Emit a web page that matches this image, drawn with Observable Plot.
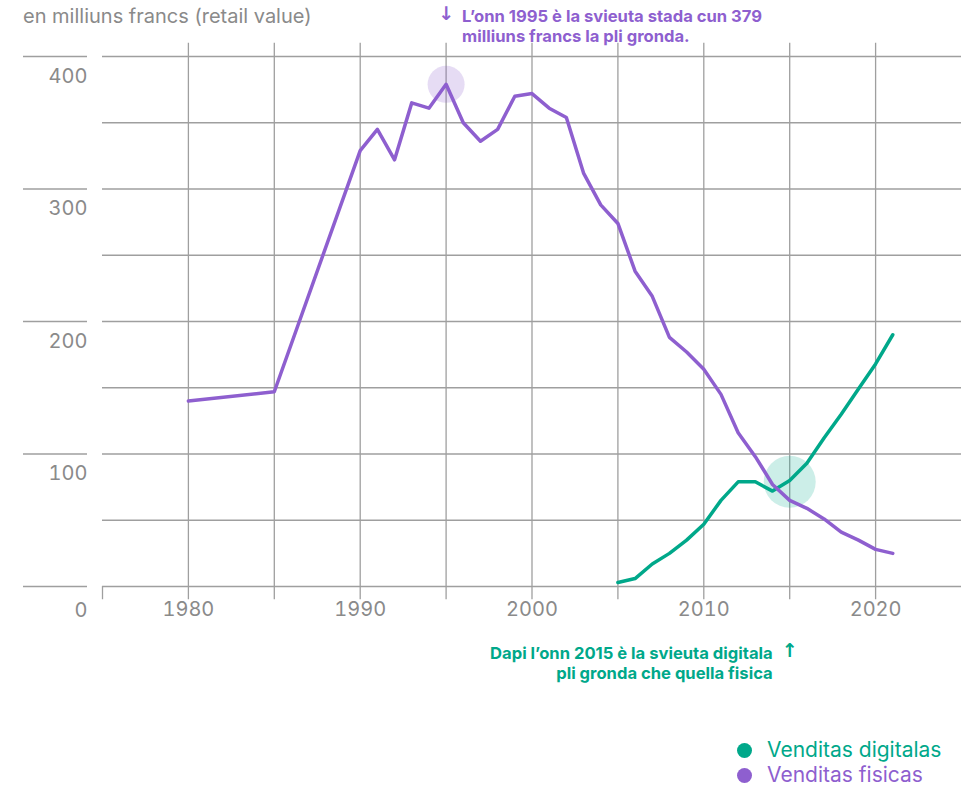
<!DOCTYPE html>
<html>
<head>
<meta charset="utf-8">
<script src="https://cdn.jsdelivr.net/npm/d3@7"></script>
<script src="https://cdn.jsdelivr.net/npm/@observablehq/plot@0.6"></script>
<style>
  body { margin: 0; background: #fff; font-family: Inter, "Liberation Sans", Arial, sans-serif; }
  #wrap { position: relative; width: 966px; height: 786px; overflow: hidden; }
  #title { position: absolute; left: 23px; top: 4px; font-size: 20px; color: #8a8a8a; white-space: nowrap; }
  #legend { position: absolute; left: 737px; top: 738px; width: 229px; font-size: 21px; line-height: 24px; white-space: nowrap; }
  .li { display: flex; align-items: center; height: 24px; }
  .li + .li { margin-top: 1px; }
  .dot { width: 15px; height: 15px; border-radius: 50%; margin-right: 15px; flex: none; }
</style>
</head>
<body>
<div id="wrap">
  <div id="chart"></div>
  <div id="title">en milliuns francs (retail value)</div>
  <div id="legend"></div>
</div>
<script>
const physYears = [1980, 1985, 1990, 1991, 1992, 1993, 1994, 1995, 1996, 1997, 1998, 1999, 2000, 2001, 2002, 2003, 2004, 2005, 2006, 2007, 2008, 2009, 2010, 2011, 2012, 2013, 2014, 2015, 2016, 2017, 2018, 2019, 2020, 2021];
const physValues = [140, 147, 329, 345, 322, 365, 361, 379, 350, 336, 345, 370, 372, 361, 354, 312, 288, 274, 238, 219, 188, 177, 164, 145, 116, 98, 77, 65, 59, 51, 41, 35, 28, 25];
const digYears = [2005, 2006, 2007, 2008, 2009, 2010, 2011, 2012, 2013, 2014, 2015, 2016, 2017, 2018, 2019, 2020, 2021];
const digValues = [3, 6, 17, 25, 35, 47, 65, 79, 79, 72, 80, 93, 112, 130, 149, 168, 190];
const yTickValues = [0, 100, 200, 300, 400];
const yLabelValues = [100, 200, 300, 400];
const yZeroLabel = [0];
const yGridValues = [0, 50, 100, 150, 200, 250, 300, 350, 400];
const xTickValues = [1980, 1990, 2000, 2010, 2020];
const xGridValues = [1980, 1985, 1990, 1995, 2000, 2005, 2010, 2015, 2020];
const seriesNames = ["Venditas digitalas", "Venditas fisicas"];
const highlightPhys = {year: 1995, value: 379};
const highlightCross = {year: 2015, value: 79};
const noteTop = "L\u2019onn 1995 è la svieuta stada cun 379\nmilliuns francs la pli gronda.";
const noteBottom = "Dapi l\u2019onn 2015 è la svieuta digitala\npli gronda che quella fisica";

const purple = "#8e5fcf";
const teal = "#00a88a";
const grid = "#9f9f9f";
const labelGray = "#8a8a8a";

const phys = physYears.map((y, i) => ({year: y, value: physValues[i]}));
const dig = digYears.map((y, i) => ({year: y, value: digValues[i]}));

const chart = Plot.plot({
  width: 966,
  height: 700,
  marginLeft: 102,
  marginRight: 5,
  marginTop: 56,
  marginBottom: 114,
  style: {fontFamily: "Inter, 'Liberation Sans', Arial, sans-serif", fontSize: "20px", color: labelGray, background: "transparent", overflow: "visible"},
  x: {domain: [1975, 2025], axis: null},
  y: {domain: [0, 400], axis: null},
  marks: [
    Plot.ruleY(yGridValues, {y: d => d, stroke: grid, strokeWidth: 1.3}),
    Plot.ruleX(xGridValues, {x: d => d, y1: -10, y2: 410, stroke: grid, strokeWidth: 1.3}),
    Plot.ruleX([1975], {x: d => d, y1: -10, y2: 0, stroke: grid, strokeWidth: 1.3}),
    Plot.axisY({ticks: yTickValues, anchor: "left", tickSize: 64, dx: -15, tickFormat: () => "", stroke: grid, strokeWidth: 1.3, label: null}),
    Plot.axisY({ticks: yLabelValues, anchor: "left", tickSize: 0, tickPadding: 0, dx: -15, dy: 20, label: null, fill: labelGray, fontSize: 20}),
    Plot.axisY({ticks: yZeroLabel, anchor: "left", tickSize: 0, tickPadding: 0, dx: -15, dy: 24, label: null, fill: labelGray, fontSize: 20}),
    Plot.axisX({ticks: xTickValues, anchor: "bottom", tickSize: 0, tickPadding: 15, tickFormat: d => String(d), label: null, fill: labelGray, fontSize: 20}),
    Plot.dot([highlightPhys], {x: "year", y: "value", r: 18.5, fill: purple, fillOpacity: 0.22}),
    Plot.dot([highlightCross], {x: "year", y: "value", r: 26, fill: teal, fillOpacity: 0.2}),
    Plot.line(dig, {x: "year", y: "value", stroke: teal, strokeWidth: 3.5}),
    Plot.line(phys, {x: "year", y: "value", stroke: purple, strokeWidth: 3.5}),
    Plot.text([highlightPhys], {x: "year", frameAnchor: "top", text: () => "\u2193", dy: -50, lineAnchor: "top", fill: purple, fontWeight: "bold", fontSize: 19, fontFamily: "'DejaVu Sans'", textAnchor: "middle"}),
    Plot.text([highlightPhys], {x: "year", frameAnchor: "top", text: () => noteTop, dx: 16, dy: -49, lineAnchor: "top", lineHeight: 1.2, fill: purple, fontWeight: "bold", fontSize: 16.6, textAnchor: "start"}),
    Plot.text([highlightCross], {x: "year", frameAnchor: "bottom", text: () => "\u2191", dy: 57, lineAnchor: "top", fill: teal, fontWeight: "bold", fontSize: 19, fontFamily: "'DejaVu Sans'", textAnchor: "middle"}),
    Plot.text([highlightCross], {x: "year", frameAnchor: "bottom", text: () => noteBottom, dx: -17, dy: 58, lineAnchor: "top", lineHeight: 1.2, fill: teal, fontWeight: "bold", fontSize: 16.6, textAnchor: "end"})
  ]
});
document.getElementById("chart").appendChild(chart);

const colors = [teal, purple];
const legend = document.getElementById("legend");
seriesNames.forEach((name, i) => {
  const row = document.createElement("div");
  row.className = "li";
  row.style.color = colors[i];
  const dot = document.createElement("span");
  dot.className = "dot";
  dot.style.background = colors[i];
  row.appendChild(dot);
  row.appendChild(document.createTextNode(name));
  legend.appendChild(row);
});
</script>
</body>
</html>
